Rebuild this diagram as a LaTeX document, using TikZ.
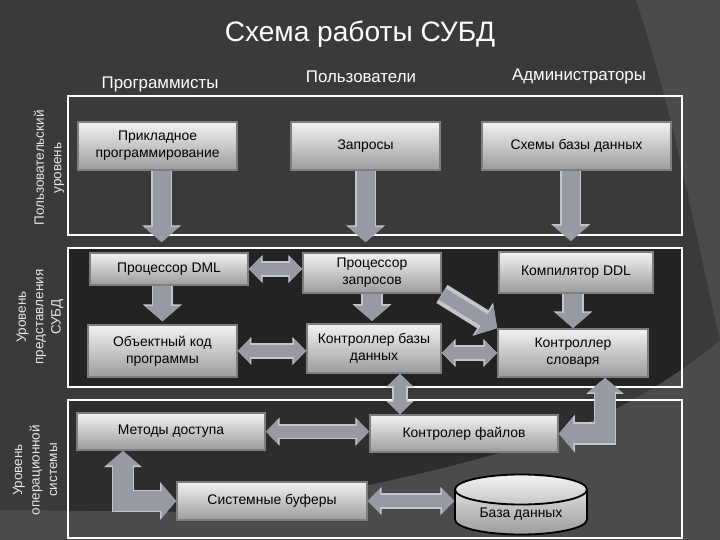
\documentclass[tikz,border=0pt]{standalone}
\usepackage{fontspec}
\setmainfont{Liberation Sans}
\usetikzlibrary{shapes.geometric, arrows.meta}

\definecolor{bgdark}{HTML}{3A3A3A}
\definecolor{bglight}{HTML}{4B4B4B}
\definecolor{lvlmid}{HTML}{232323}
\definecolor{lvlbot}{HTML}{2D2D2D}
\definecolor{boxtop}{HTML}{F2F2F2}
\definecolor{boxbottom}{HTML}{9C9C9C}
\definecolor{boxedge}{HTML}{7E7E7E}
\definecolor{arrowfill}{HTML}{959AA3}
\definecolor{arrowedge}{HTML}{C3C7CD}
\definecolor{labelgray}{HTML}{E6E6E6}

\tikzset{
    block/.style={draw=boxedge, line width=1.3pt, top color=boxtop, bottom color=boxbottom,
        text=black, align=center, inner sep=1pt, font=\fontsize{9.9pt}{12pt}\selectfont},
    level/.style={rotate=90, text=labelgray, align=center, font=\fontsize{9.6pt}{12.4pt}\selectfont},
    header/.style={text=white, font=\fontsize{12pt}{14pt}\selectfont},
    down/.style={line width=0.45cm, draw=arrowfill, -{Triangle[length=0.38cm,width=0.85cm]},
        preaction={draw=arrowedge, line width=0.53cm, -{Triangle[length=0.42cm,width=0.95cm]}}},
    both/.style={line width=0.3cm, draw=arrowfill, {Triangle[length=0.3cm,width=0.58cm]}-{Triangle[length=0.3cm,width=0.58cm]},
        preaction={draw=arrowedge, line width=0.38cm, {Triangle[length=0.34cm,width=0.68cm]}-{Triangle[length=0.34cm,width=0.68cm]}}},
    bothwide/.style={line width=0.48cm, draw=arrowfill, {Triangle[length=0.36cm,width=0.82cm]}-{Triangle[length=0.36cm,width=0.82cm]},
        preaction={draw=arrowedge, line width=0.56cm, {Triangle[length=0.4cm,width=0.92cm]}-{Triangle[length=0.4cm,width=0.92cm]}}}
}

\begin{document}
\begin{tikzpicture}

    % Background
    \useasboundingbox (0cm,0cm) rectangle (18cm,13.5cm);
    \fill[bgdark] (0cm,0cm) rectangle (18cm,13.5cm);
    \fill[bglight] (15.9cm,13.5cm) .. controls (16.9cm,10.5cm) and (17.4cm,7.5cm) .. (18cm,5cm) -- (18cm,13.5cm) -- cycle;

    % Levels
    \fill[lvlmid] (1.7cm,7.3cm) rectangle (17.05cm,3.825cm);
    \fill[lvlbot] (1.7cm,3.5cm) rectangle (17.05cm,0.05cm);
    \fill[bglight] (0cm,0cm) -- (0cm,0.75cm) -- (4.5cm,0.7cm)
        .. controls (7.5cm,0.875cm) and (11.25cm,1.75cm) .. (14cm,2.625cm)
        .. controls (15.5cm,3.25cm) and (17cm,4.125cm) .. (18cm,5cm) -- (18cm,0cm) -- cycle;

    \draw[white, line width=1.4pt] (1.7cm,11.1cm) rectangle (17.05cm,7.625cm);
    \draw[white, line width=1.4pt] (1.7cm,7.3cm) rectangle (17.05cm,3.825cm);
    \draw[white, line width=1.4pt] (1.7cm,3.5cm) rectangle (17.05cm,0.05cm);

    \node[level] (lvluser) at (1.225cm, 9.3cm) {Пользовательский\\уровень};
    \node[level] (lvldbms) at (1.0cm, 5.575cm) {Уровень\\представления\\СУБД};
    \node[level] (lvlos) at (0.875cm, 1.75cm) {Уровень\\операционной\\системы};

    % Title and columns
    \node[text=white, font=\fontsize{20pt}{24pt}\selectfont] (title) at (9cm, 12.65cm) {Схема работы СУБД};
    \node[header] (colprog) at (4.0cm, 11.4cm) {Программисты};
    \node[header] (coluser) at (9.025cm, 11.575cm) {Пользователи};
    \node[header] (coladm) at (14.475cm, 11.6cm) {Администраторы};

    % Blocks
    \node[block, minimum width=3.975cm, minimum height=1.2cm] (prog) at (3.94cm, 9.85cm) {Прикладное\\программирование};
    \node[block, minimum width=3.725cm, minimum height=1.2cm] (zapr) at (9.14cm, 9.85cm) {Запросы};
    \node[block, minimum width=4.725cm, minimum height=1.2cm] (shem) at (14.41cm, 9.85cm) {Схемы базы данных};

    \node[block, minimum width=3.95cm, minimum height=0.8cm] (dml) at (4.225cm, 6.775cm) {Процессор DML};
    \node[block, minimum width=3.45cm, minimum height=1.0cm] (pzap) at (9.3cm, 6.675cm) {Процессор\\запросов};
    \node[block, minimum width=3.85cm, minimum height=1.025cm] (ddl) at (14.4cm, 6.69cm) {Компилятор DDL};

    \node[block, minimum width=3.725cm, minimum height=1.3cm] (obj) at (4.06cm, 4.725cm) {Объектный код\\программы};
    \node[block, minimum width=3.35cm, minimum height=1.225cm] (kbd) at (9.35cm, 4.79cm) {Контроллер базы\\данных};
    \node[block, minimum width=3.75cm, minimum height=1.2cm] (ksl) at (14.325cm, 4.675cm) {Контроллер\\словаря};

    \node[block, minimum width=4.7cm, minimum height=0.925cm] (met) at (4.275cm, 2.71cm) {Методы доступа};
    \node[block, minimum width=4.7cm, minimum height=0.925cm] (kfl) at (11.6cm, 2.66cm) {Контролер файлов};
    \node[block, minimum width=4.75cm, minimum height=0.95cm] (buf) at (6.8cm, 0.975cm) {Системные буферы};
    \node[block, draw=black, cylinder, shape border rotate=90, aspect=0.35,
        minimum width=3.3cm, minimum height=1.5cm] (db) at (13.025cm, 0.65cm) {База данных};

    % Arrows
    \draw[down, shorten >=0.25cm] ([xshift=0.1cm]prog.south) -- ([xshift=0.1cm]prog.south |- dml.north);
    \draw[down, shorten >=0.25cm] (zapr.south) -- (zapr.south |- pzap.north);
    \draw[down, shorten >=0.25cm] ([xshift=-0.14cm]shem.south) -- ([xshift=-0.14cm]shem.south |- ddl.north);

    \draw[down, shorten >=0.07cm] (obj.north |- dml.south) -- (obj.north);
    \draw[down, shorten >=0.05cm] (pzap.south) -- (pzap.south |- kbd.north);
    \draw[down] (ksl.north |- ddl.south) -- (ksl.north);
    \draw[down, line width=0.33cm, preaction={line width=0.4cm}] (pzap.south east) -- (ksl.north west);

    \draw[both] (dml.east) -- (dml.east -| pzap.west);
    \draw[both] (obj.east) -- (obj.east -| kbd.west);
    \draw[both] (ksl.west -| kbd.east) -- (ksl.west);
    \draw[both] ([xshift=0.65cm]kbd.south) -- ([xshift=0.65cm]kbd.south |- kfl.north);

    \draw[both] (met.east) -- (met.east -| kfl.west);
    \draw[both] (buf.east) -- (buf.east -| db.west);
    \draw[bothwide] (kfl.east) -| ([xshift=0.8cm]ksl.south);
    \draw[bothwide] ([xshift=-1.2cm]met.south) |- (buf.west);

\end{tikzpicture}
\end{document}
